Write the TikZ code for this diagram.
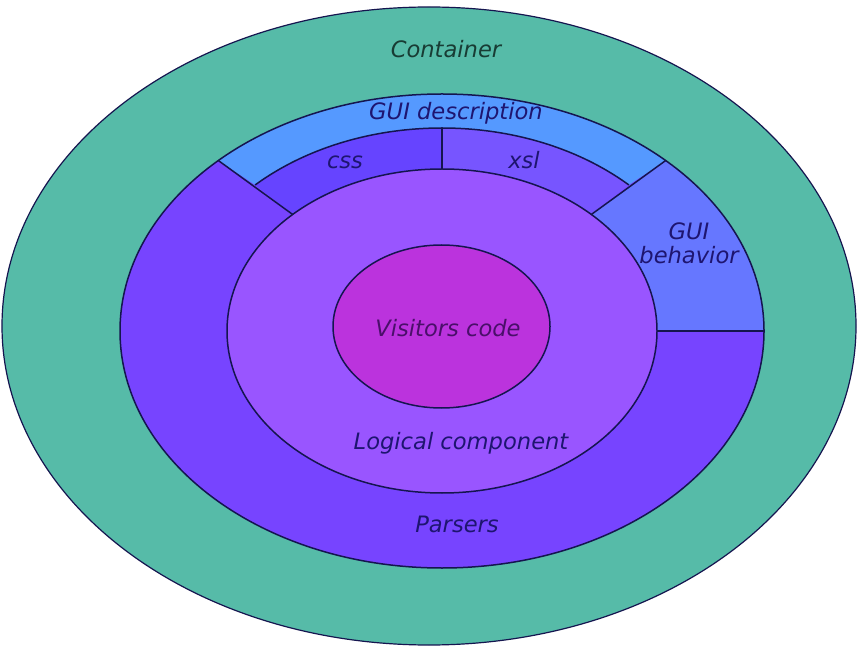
\documentclass[tikz,border=0pt]{standalone}
\usepackage{fontspec}
\setmainfont{DejaVu Sans}
\definecolor{teal1}{HTML}{56BBA8}
\definecolor{guidesc}{HTML}{5599FF}
\definecolor{cssc}{HTML}{6644FF}
\definecolor{xslc}{HTML}{7755FF}
\definecolor{parsc}{HTML}{7744FF}
\definecolor{behc}{HTML}{6677FF}
\definecolor{logc}{HTML}{9955FF}
\definecolor{visc}{HTML}{BB33DD}
\definecolor{edge}{HTML}{15154F}
\definecolor{txtnavy}{HTML}{1E1570}
\definecolor{txtteal}{HTML}{183C34}
\definecolor{txtvis}{HTML}{4A0F6A}
\tikzset{
  region/.style={draw=edge, line width=1.5pt},
  lbl/.style={font=\fontsize{22.6}{24}\selectfont\itshape, text=txtnavy, anchor=base, inner sep=0pt},
}
\begin{document}
\begin{tikzpicture}[x=1pt,y=1pt]
\useasboundingbox[fill=white] (0,0) rectangle (858,648);
\coordinate (O) at (429,322);
\coordinate (C) at (442,317);
\coordinate (V) at (441.5,321.5);
% container
\fill[teal1] (O) ellipse [x radius=427pt, y radius=319pt];
\draw[edge, line width=1.2pt] (O) ellipse [x radius=427pt, y radius=319pt];
% parsers
\fill[parsc] (C) ellipse [x radius=322pt, y radius=237pt];
% GUI description band
\fill[guidesc] ([shift={(46:322pt and 237pt)}]C) arc[start angle=46, end angle=134, x radius=322pt, y radius=237pt]
  -- ([shift={(134:269pt and 203pt)}]C) arc[start angle=134, end angle=46, x radius=269pt, y radius=203pt] -- cycle;
% css
\fill[cssc] ([shift={(90:269pt and 203pt)}]C) arc[start angle=90, end angle=134, x radius=269pt, y radius=203pt]
  -- ([shift={(134:215pt and 162pt)}]C) arc[start angle=134, end angle=90, x radius=215pt, y radius=162pt] -- cycle;
% xsl
\fill[xslc] ([shift={(46:269pt and 203pt)}]C) arc[start angle=46, end angle=90, x radius=269pt, y radius=203pt]
  -- ([shift={(90:215pt and 162pt)}]C) arc[start angle=90, end angle=46, x radius=215pt, y radius=162pt] -- cycle;
% GUI behavior
\fill[behc] ([shift={(0:322pt and 237pt)}]C) arc[start angle=0, end angle=46, x radius=322pt, y radius=237pt]
  -- ([shift={(46:215pt and 162pt)}]C) arc[start angle=46, end angle=0, x radius=215pt, y radius=162pt] -- cycle;
% outlines
\draw[region] (C) ellipse [x radius=322pt, y radius=237pt];
\draw[region] ([shift={(46:269pt and 203pt)}]C) arc[start angle=46, end angle=134, x radius=269pt, y radius=203pt];
\draw[region] ([shift={(134:322pt and 237pt)}]C) -- ([shift={(134:215pt and 162pt)}]C);
\draw[region] ([shift={(46:322pt and 237pt)}]C) -- ([shift={(46:215pt and 162pt)}]C);
\draw[region] ([shift={(90:269pt and 203pt)}]C) -- ([shift={(90:215pt and 162pt)}]C);
\draw[region] ([shift={(0:322pt and 237pt)}]C) -- ([shift={(0:215pt and 162pt)}]C);
% logical component
\draw[region, fill=logc] (C) ellipse [x radius=215pt, y radius=162pt];
% visitors
\draw[region, fill=visc] (V) ellipse [x radius=108.5pt, y radius=81.5pt];
% labels
\node[lbl, text=txtteal] (container) at (446,590) {Container};
\node[lbl] (guidescr) at (456,528) {GUI description};
\node[lbl] (css) at (345,479) {css};
\node[lbl] (xsl) at (524,479) {xsl};
\node[lbl, anchor=center, align=center] (guibeh) at (689,405) {GUI\\behavior};
\node[lbl, text=txtvis] (visitors) at (448,311) {Visitors code};
\node[lbl] (logical) at (461,199) {Logical component};
\node[lbl] (parsers) at (457,116) {Parsers};
\end{tikzpicture}
\end{document}
